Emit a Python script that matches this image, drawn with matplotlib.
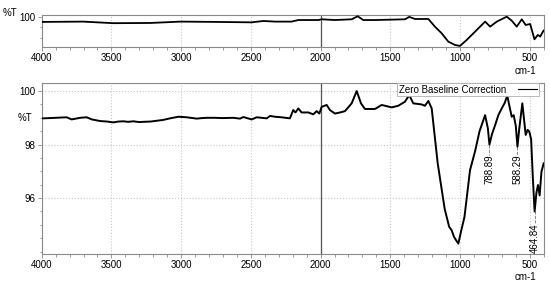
import matplotlib
matplotlib.use("Agg")
import matplotlib.pyplot as plt
from matplotlib.lines import Line2D
from matplotlib.ticker import MultipleLocator, FixedLocator

plt.rcParams['font.family'] = ['Liberation Sans', 'DejaVu Sans']

# ---- overview spectrum (top panel) ----
top_wn = [4000, 3988, 3704, 3486, 3222, 3003, 2752, 2494, 2410, 2327, 2207, 2160, 2016,
          1992, 1897, 1777, 1734, 1694, 1610, 1395, 1364, 1323, 1227, 1180, 1132, 1084,
          1036, 1000, 952, 892, 820, 784, 736, 665, 629, 593, 557, 529, 497, 466, 442,
          425, 401]
top_t = [95.0, 95.0, 95.3, 93.8, 94.0, 95.3, 95.0, 94.6, 95.9, 95.3, 95.3, 96.8, 96.8,
         97.5, 96.8, 97.5, 100.4, 96.8, 96.8, 97.5, 99.8, 97.8, 97.8, 90.5, 84.2, 76.2,
         73.0, 72.1, 77.8, 85.7, 95.3, 90.5, 95.3, 100.0, 96.2, 90.5, 97.5, 92.1, 93.0,
         78.4, 82.6, 81.0, 86.7]

# ---- zero-baseline-corrected spectrum (bottom panel) ----
wn = [4000, 3988, 3900, 3821, 3785, 3725, 3677, 3641, 3582, 3530, 3486, 3450, 3414, 3380,
      3342, 3300, 3270, 3220, 3175, 3130, 3080, 3040, 3020, 2960, 2888, 2850, 2816, 2760,
      2700, 2626, 2578, 2554, 2494, 2458, 2386, 2362, 2327, 2280, 2220, 2196, 2180, 2160,
      2136, 2088, 2052, 2028, 2009, 1992, 1956, 1933, 1897, 1860, 1825, 1777, 1741, 1710,
      1682, 1610, 1562, 1490, 1443, 1395, 1364, 1335, 1275, 1252, 1227, 1203, 1160, 1110,
      1078, 1060, 1043, 1025, 1012, 995, 968, 928, 892, 860, 820, 800, 789, 770, 748, 725,
      701, 680, 661, 640, 629, 615, 600, 588, 575, 553, 540, 529, 515, 503, 490, 478, 465,
      452, 441, 429, 416, 400]
tr = [98.98, 98.98, 99.00, 99.02, 98.94, 99.00, 99.02, 98.94, 98.88, 98.86, 98.83, 98.86,
      98.87, 98.85, 98.87, 98.84, 98.85, 98.86, 98.89, 98.92, 98.98, 99.02, 99.04, 99.02,
      98.97, 98.99, 99.00, 99.00, 98.99, 99.00, 98.97, 99.03, 98.94, 99.02, 98.98, 99.07,
      99.04, 99.02, 98.98, 99.29, 99.20, 99.35, 99.20, 99.20, 99.13, 99.25, 99.16, 99.41,
      99.48, 99.29, 99.16, 99.20, 99.25, 99.54, 100.0, 99.54, 99.33, 99.33, 99.48, 99.39,
      99.45, 99.60, 99.85, 99.54, 99.50, 99.45, 99.63, 99.35, 97.30, 95.60, 94.93, 94.80,
      94.55, 94.40, 94.30, 94.70, 95.30, 97.05, 97.75, 98.50, 99.10, 98.60, 98.00, 98.40,
      98.73, 99.10, 99.35, 99.55, 99.83, 99.30, 99.04, 99.10, 98.70, 97.92, 98.60, 99.54,
      98.90, 98.36, 98.55, 98.48, 98.20, 96.80, 95.50, 96.20, 96.49, 96.10, 96.98, 97.30]

peak_wn = [788.89, 588.29, 464.84]
peak_t = [98.00, 97.92, 95.50]
peak_text_top = [97.62, 97.62, 95.05]

xticks = [4000, 3500, 3000, 2500, 2000, 1500, 1000, 500]
ytick_bottom = [96, 98, 100]

SPINE = '#8a8a8a'
GRID = '#c8c8c8'
FS = 7

fig = plt.figure(figsize=(5.5, 2.83), dpi=100)
ax1 = fig.add_axes([0.0758, 0.834, 0.9127, 0.113])
ax2 = fig.add_axes([0.0758, 0.1042, 0.9127, 0.6015])

for ax in (ax1, ax2):
    ax.set_xlim(4000, 400)
    ax.xaxis.set_major_locator(FixedLocator(xticks))
    ax.xaxis.set_minor_locator(MultipleLocator(100))
    for s in ax.spines.values():
        s.set_color(SPINE)
        s.set_linewidth(0.8)
    ax.tick_params(which='both', direction='out', colors=SPINE, labelcolor='black',
                   labelsize=FS, width=0.6)
    ax.tick_params(which='major', length=3, pad=1.5)
    ax.tick_params(which='minor', length=1.8)
    ax.grid(axis='x', which='major', color=GRID, linestyle=':', linewidth=0.8)
    ax.axvline(2000, color='#555555', linewidth=0.9, zorder=2.2)
    ax.annotate('cm-1', xy=(530, 0), xycoords=('data', 'axes fraction'),
                xytext=(0, -17), textcoords='offset points', fontsize=FS,
                ha='center', va='center')

# top panel
ax1.plot(top_wn, top_t, color='black', linewidth=1.3, zorder=3)
ax1.set_ylim(71.1, 101.6)
ax1.yaxis.set_major_locator(FixedLocator([100]))
ax1.yaxis.set_minor_locator(FixedLocator([90, 80]))
ax1.tick_params(axis='x', pad=1)
ax1.text(-0.078, 1.05, '%T', transform=ax1.transAxes, fontsize=FS, ha='left', va='center')

# bottom panel
ax2.plot(wn, tr, color='black', linewidth=1.4, zorder=3)
ax2.set_ylim(93.93, 100.29)
ax2.yaxis.set_major_locator(FixedLocator(ytick_bottom))
ax2.yaxis.set_minor_locator(MultipleLocator(0.5))
ax2.grid(axis='y', which='major', color=GRID, linestyle=':', linewidth=0.8)
ax2.text(-0.018, 99.0, '%T', transform=ax2.get_yaxis_transform(), fontsize=FS,
         ha='right', va='center')

for x, y0, y1 in zip(peak_wn, peak_t, peak_text_top):
    ax2.plot([x, x], [y0, y1], color='#777777', linestyle='--', linewidth=0.6, zorder=2)
    ax2.text(x, y1, f'{x:.2f}', rotation=90, fontsize=FS, ha='center', va='top')

handle = Line2D([], [], color='black', linewidth=0.8)
leg = ax2.legend([handle], ['Zero Baseline Correction'], loc='upper right',
                 bbox_to_anchor=(0.99, 1.0), borderaxespad=0, markerfirst=False,
                 fancybox=False, framealpha=1, edgecolor='#b0b0b0', fontsize=FS,
                 handlelength=2.0, borderpad=0.15, handletextpad=1.2)
leg.get_frame().set_linewidth(0.6)

fig.savefig('out.png', dpi=100)
